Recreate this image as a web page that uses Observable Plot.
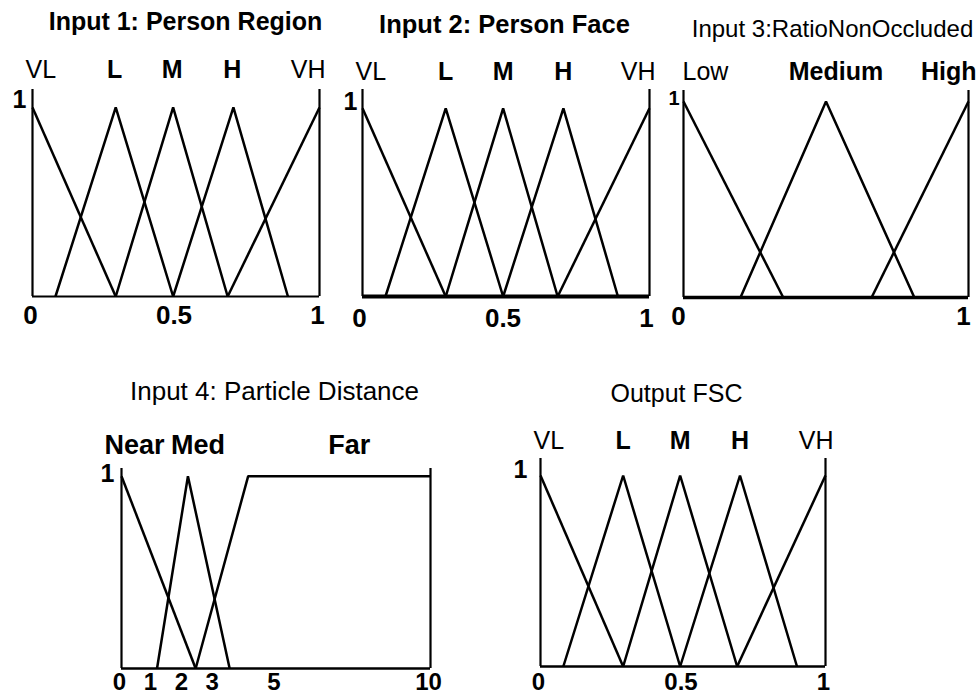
<!DOCTYPE html>
<html>
<head>
<meta charset="utf-8">
<script src="https://cdn.jsdelivr.net/npm/d3@7"></script>
<script src="https://cdn.jsdelivr.net/npm/@observablehq/plot@0.6"></script>
<style>
html, body { margin: 0; padding: 0; background: #fff; }
#chart { position: relative; width: 977px; height: 698px; overflow: hidden; background: #fff; }
#chart svg { position: absolute; }
</style>
</head>
<body>
<div id="chart"></div>
<script>
// ---------- Data ----------
// Input 1: Person Region
const regionTitle = "Input 1: Person Region";
const regionTerms = ["VL", "L", "M", "H", "VH"];
const regionX = [[0, 0.29], [0.08, 0.29, 0.49], [0.29, 0.49, 0.68], [0.49, 0.70, 0.89], [0.68, 1]];
const regionMu = [[1, 0], [0, 1, 0], [0, 1, 0], [0, 1, 0], [0, 1]];
const regionTicks = [0, 0.5, 1];
const regionTickLabels = ["0", "0.5", "1"];

// Input 2: Person Face
const faceTitle = "Input 2: Person Face";
const faceTerms = ["VL", "L", "M", "H", "VH"];
const faceX = [[0, 0.29], [0.08, 0.29, 0.49], [0.29, 0.49, 0.68], [0.49, 0.70, 0.89], [0.68, 1]];
const faceMu = [[1, 0], [0, 1, 0], [0, 1, 0], [0, 1, 0], [0, 1]];
const faceTicks = [0, 0.5, 1];
const faceTickLabels = ["0", "0.5", "1"];

// Input 3: RatioNonOccluded
const ratioTitle = "Input 3:RatioNonOccluded";
const ratioTerms = ["Low", "Medium", "High"];
const ratioX = [[0, 0.35], [0.20, 0.50, 0.81], [0.66, 1]];
const ratioMu = [[1, 0], [0, 1, 0], [0, 1]];
const ratioTicks = [0, 1];
const ratioTickLabels = ["0", "1"];

// Input 4: Particle Distance
const distTitle = "Input 4: Particle Distance";
const distTerms = ["Near", "Med", "Far"];
const distX = [[0, 2.4], [1.15, 2.15, 3.5], [2.4, 4.1, 10]];
const distMu = [[1, 0], [0, 1, 0], [0, 1, 1]];
const distTicks = [0, 1, 2, 3, 5, 10];
const distTickLabels = ["0", "1", "2", "3", "5", "10"];

// Output FSC
const fscTitle = "Output FSC";
const fscTerms = ["VL", "L", "M", "H", "VH"];
const fscX = [[0, 0.29], [0.08, 0.29, 0.49], [0.29, 0.49, 0.69], [0.49, 0.70, 0.90], [0.69, 1]];
const fscMu = [[1, 0], [0, 1, 0], [0, 1, 0], [0, 1, 0], [0, 1]];
const fscTicks = [0, 0.5, 1];
const fscTickLabels = ["0", "0.5", "1"];

// ---------- Layout / style options ----------
const FONT = "'Liberation Sans', Arial, Helvetica, sans-serif";
const panels = [
  { title: regionTitle, terms: regionTerms, xs: regionX, mus: regionMu, domain: [0, 1], ticks: regionTicks, tickLabels: regionTickLabels,
    L: { left: 0, top: 0, width: 338, height: 345, ml: 32, mr: 19, mt: 89, mb: 49, ymax: 1.095, base: 2,
         labelDx: { start: -7, middle: -1, end: 6 }, labelDy: -20, labelSize: 25, labelWeight: { start: "normal", middle: "bold", end: "normal" },
         tickDx: -2, tickDy: 19, tickSize: 26, oneDx: -6, oneDy: -7, oneSize: 25,
         titleDx: 153, titleDy: -68, titleSize: 25, titleWeight: "bold" } },
  { title: faceTitle, terms: faceTerms, xs: faceX, mus: faceMu, domain: [0, 1], ticks: faceTicks, tickLabels: faceTickLabels,
    L: { left: 338, top: 0, width: 322, height: 345, ml: 24, mr: 11, mt: 89, mb: 49, ymax: 1.10, base: 4,
         labelDx: { start: -7, middle: 0, end: 6 }, labelDy: -18, labelSize: 25, labelWeight: { start: "normal", middle: "bold", end: "normal" },
         tickDx: -3, tickDy: 22, tickSize: 26, oneDx: -5, oneDy: -6, oneSize: 25,
         titleDx: 142, titleDy: -65, titleSize: 25.5, titleWeight: "bold" } },
  { title: ratioTitle, terms: ratioTerms, xs: ratioX, mus: ratioMu, domain: [0, 1], ticks: ratioTicks, tickLabels: ratioTickLabels,
    L: { left: 660, top: 0, width: 317, height: 345, ml: 23, mr: 9, mt: 90, mb: 48, ymax: 1.056, base: 3.5,
         labelDx: { start: -1, middle: 10, end: 8 }, labelDy: -19, labelSize: 25, labelWeight: { start: "normal", middle: "bold", end: "bold" },
         tickDx: -5, tickDy: 19, tickSize: 26, oneDx: -4, oneDy: -3, oneSize: 20,
         titleDx: 149, titleDy: -61, titleSize: 24, titleWeight: "normal" } },
  { title: distTitle, terms: distTerms, xs: distX, mus: distMu, domain: [0, 10], ticks: distTicks, tickLabels: distTickLabels,
    L: { left: 90, top: 345, width: 380, height: 353, ml: 31, mr: 40, mt: 123, mb: 30, ymax: 1.04, base: 2.5,
         labelDx: { start: -17, middle: 10, end: 4 }, labelDy: -23, labelSize: 27, labelWeight: { start: "bold", middle: "bold", end: "bold" },
         tickDx: -2, tickDy: 14, tickSize: 24, oneDx: -7, oneDy: -2, oneSize: 25,
         titleDx: 153, titleDy: -77, titleSize: 26, titleWeight: "normal" } },
  { title: fscTitle, terms: fscTerms, xs: fscX, mus: fscMu, domain: [0, 1], ticks: fscTicks, tickLabels: fscTickLabels,
    L: { left: 490, top: 345, width: 390, height: 353, ml: 50, mr: 55, mt: 113, mb: 32, ymax: 1.089, base: 2.5,
         labelDx: { start: -7, middle: 0, end: 8 }, labelDy: -18, labelSize: 25, labelWeight: { start: "normal", middle: "bold", end: "normal" },
         tickDx: -2, tickDy: 16, tickSize: 24, oneDx: -13, oneDy: -5, oneSize: 25,
         titleDx: 136, titleDy: -65, titleSize: 25, titleWeight: "normal" } }
];

function drawPanel(p) {
  const L = p.L;
  const rows = p.terms.flatMap((t, i) => p.xs[i].map((x, j) => ({ term: t, x, mu: p.mus[i][j] })));
  const labels = p.terms.map((t, i) => {
    const core = p.xs[i].filter((x, j) => p.mus[i][j] === 1);
    const cx = d3.mean(core);
    let anchor = "middle";
    if (core.length === 1 && cx === p.domain[0]) anchor = "start";
    else if (core.length === 1 && cx === p.domain[1]) anchor = "end";
    return { term: t, x: cx, anchor };
  });
  const labelMarks = ["start", "middle", "end"].map(a =>
    Plot.text(labels.filter(d => d.anchor === a), {
      x: "x", y: L.ymax, text: "term", textAnchor: a, lineAnchor: "middle",
      dx: L.labelDx[a], dy: L.labelDy, fontSize: L.labelSize, fontWeight: L.labelWeight[a], fill: "black"
    })
  );
  const svg = Plot.plot({
    width: L.width, height: L.height,
    marginLeft: L.ml, marginRight: L.mr, marginTop: L.mt, marginBottom: L.mb,
    x: { domain: p.domain, axis: null },
    y: { domain: [0, L.ymax], axis: null },
    style: { background: "transparent", fontFamily: FONT, overflow: "visible" },
    marks: [
      Plot.ruleY([0], { x1: p.domain[0], x2: p.domain[1], stroke: "black", strokeWidth: L.base }),
      Plot.ruleX(p.domain, { y1: 0, y2: L.ymax, stroke: "black", strokeWidth: 2.2 }),
      Plot.line(rows, { x: "x", y: "mu", z: "term", stroke: "black", strokeWidth: 2.5, strokeLinejoin: "miter", strokeLinecap: "butt" }),
      ...labelMarks,
      Plot.text(p.ticks, { x: d => d, y: 0, text: (d, i) => p.tickLabels[i], textAnchor: "middle", lineAnchor: "middle",
        dx: L.tickDx, dy: L.tickDy, fontSize: L.tickSize, fontWeight: "bold", fill: "black" }),
      Plot.text(["1"], { x: p.domain[0], y: 1, text: d => d, textAnchor: "end", lineAnchor: "middle",
        dx: L.oneDx, dy: L.oneDy, fontSize: L.oneSize, fontWeight: "bold", fill: "black" }),
      Plot.text([p.title], { frameAnchor: "top-left", text: d => d, textAnchor: "middle", lineAnchor: "middle",
        dx: L.titleDx, dy: L.titleDy, fontSize: L.titleSize, fontWeight: L.titleWeight, fill: "black" })
    ]
  });
  svg.style.left = L.left + "px";
  svg.style.top = L.top + "px";
  svg.style.maxWidth = "none";
  return svg;
}

const chart = document.getElementById("chart");
panels.forEach(p => chart.appendChild(drawPanel(p)));
</script>
</body>
</html>
